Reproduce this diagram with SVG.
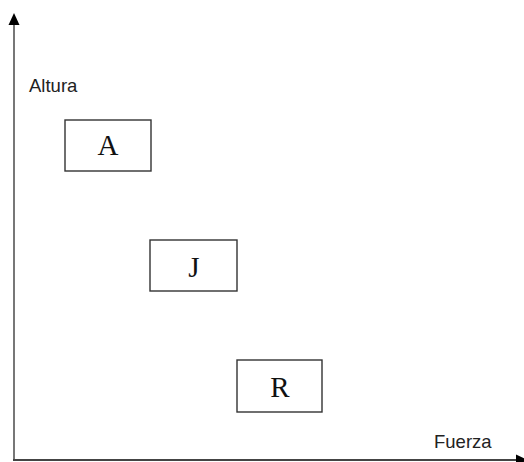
<svg xmlns="http://www.w3.org/2000/svg" width="524" height="462" viewBox="0 0 524 462">
<style>
.box{fill:#fff;stroke:#333;stroke-width:1.4}
.lbl{font-family:"Liberation Serif","Times New Roman",serif;font-size:29px;fill:#111;text-anchor:middle}
.ax{font-family:"Liberation Sans",Arial,sans-serif;font-size:18.5px;fill:#222}
</style>
<rect width="524" height="462" fill="#fff"/>
<g id="connectors">
<line x1="14" y1="24" x2="14" y2="460" stroke="#777" stroke-width="2"/>
<polygon points="14,13 8.5,25 19.5,25" fill="#000"/>
<line x1="13" y1="460" x2="517" y2="460" stroke="#444" stroke-width="2"/>
<polygon points="528,460 516,454.5 516,465.5" fill="#000"/>
</g>
<g id="axis-labels">
<text class="ax" x="29" y="92">Altura</text>
<text class="ax" x="434" y="448">Fuerza</text>
</g>
<g id="node-A">
<rect class="box" x="65" y="120" width="86" height="51"/>
<text class="lbl" x="108" y="155">A</text>
</g>
<g id="node-J">
<rect class="box" x="150" y="240" width="87" height="51"/>
<text class="lbl" x="194" y="277">J</text>
</g>
<g id="node-R">
<rect class="box" x="237" y="360" width="85" height="52"/>
<text class="lbl" x="280" y="397">R</text>
</g>
</svg>
